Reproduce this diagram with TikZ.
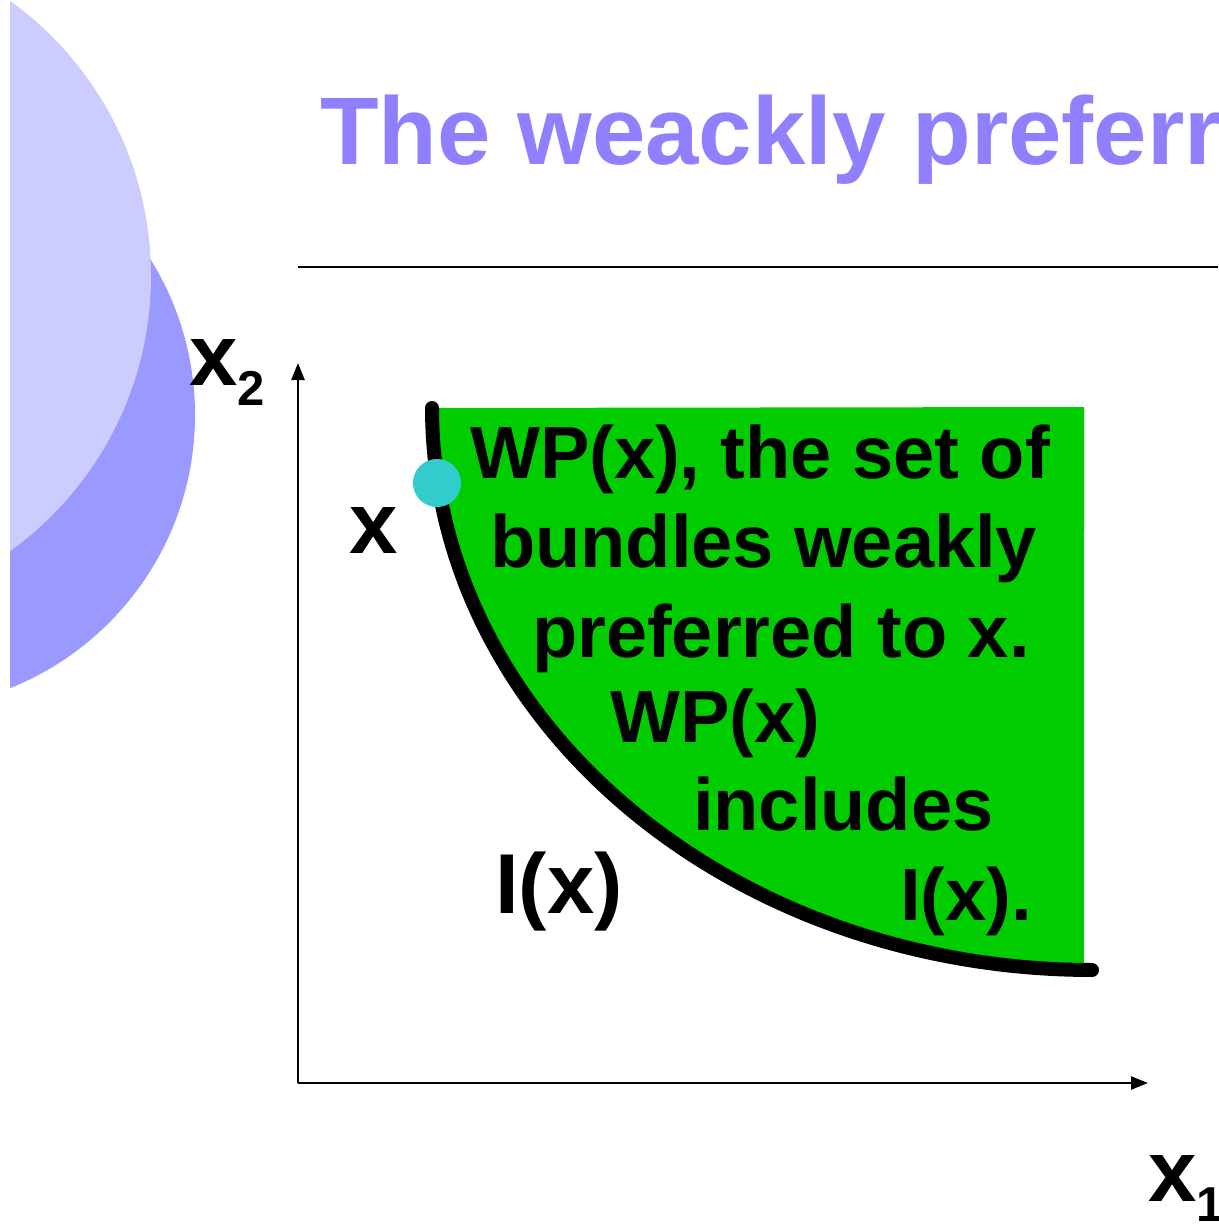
\documentclass[tikz,border=0pt]{standalone}
\usepackage{fontspec}
\setmainfont{Liberation Sans}
\usetikzlibrary{arrows.meta}
\definecolor{titlecol}{RGB}{143,128,255}
\definecolor{lightblob}{RGB}{204,204,255}
\definecolor{darkblob}{RGB}{153,153,255}
\definecolor{wpgreen}{RGB}{0,204,0}
\definecolor{dotcol}{RGB}{51,204,204}
\begin{document}
\begin{tikzpicture}[x=1pt,y=-1pt,
  lbl/.style={inner sep=0pt, anchor=base west, font=\bfseries\fontsize{74}{80}\selectfont},
  axlbl/.style={inner sep=0pt, anchor=base west, font=\bfseries\fontsize{87}{90}\selectfont},
  axisline/.style={line width=2.5pt, -{Triangle[length=17pt,width=13pt]}}]
\useasboundingbox (0,0) rectangle (1218,1225);
\clip (0,0) rectangle (1218,1225);
% decorative blobs
\begin{scope}
  \clip (10,0) rectangle (400,1225);
  \fill[darkblob] (-99,415) circle[radius=294];
  \fill[lightblob] (-188,276) circle[radius=339];
\end{scope}
% title and rule
\node[inner sep=0pt, anchor=base west, text=titlecol, font=\bfseries\fontsize{96}{100}\selectfont] (title) at (320,165) {The weackly preferr};
\coordinate (ruleL) at (298,267);
\coordinate (ruleR) at (1218,267);
\draw[line width=2pt] (ruleL) -- (ruleR);
% axes
\coordinate (O) at (298,1083);
\coordinate (ytop) at (298,363);
\coordinate (xend) at (1148,1083);
\draw[axisline] (O) -- (ytop);
\draw[axisline] (O) -- (xend);
% weakly preferred set
\fill[wpgreen] plot[domain=180:90.7, samples=90] ({1092+660*cos(\x)},{408+562*sin(\x)}) -- (1084,407) -- cycle;
\draw[line width=14pt, line cap=round] plot[domain=180:90, samples=90] ({1092+660*cos(\x)},{408+562*sin(\x)});
\node[circle, fill=dotcol, minimum size=48pt, inner sep=0pt] (xdot) at (437,483) {};
% texts
\node[lbl] (t1) at (470,478) {WP(x), the set of};
\node[lbl] (t2) at (490,567) {bundles weakly};
\node[lbl] (t3) at (532,657) {preferred to x.};
\node[lbl] (t4) at (610,742) {WP(x)};
\node[lbl] (t5) at (693,830) {includes};
\node[lbl] (t6) at (900,920) {I(x).};
\node[inner sep=0pt, anchor=base west, font=\bfseries\fontsize{85}{90}\selectfont] (ix) at (495,913) {I(x)};
\node[axlbl] (xlab) at (349,553) {x};
\node[axlbl] (x2) at (189,385) {x\raisebox{-20pt}{\fontsize{49}{50}\selectfont 2}};
\node[axlbl] (x1) at (1148,1201) {x\raisebox{-20pt}{\fontsize{49}{50}\selectfont 1}};
\end{tikzpicture}
\end{document}
